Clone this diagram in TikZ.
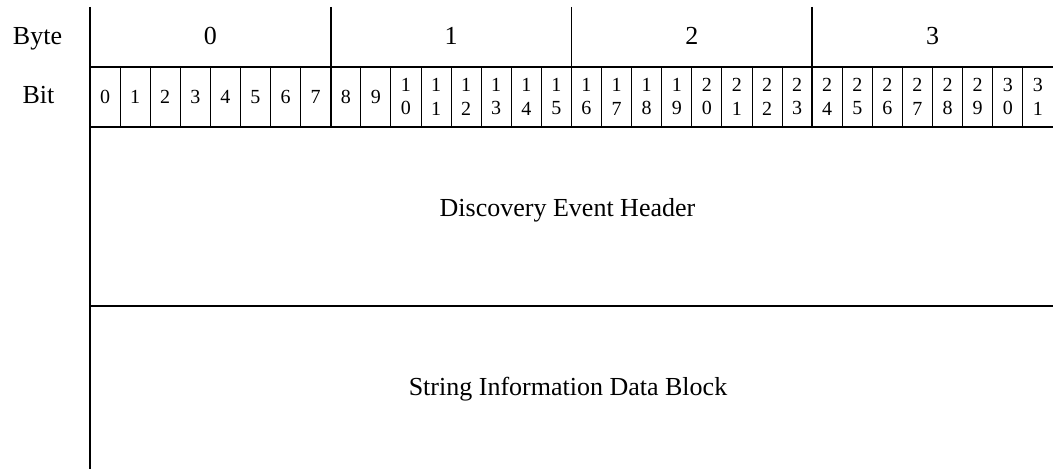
\documentclass[tikz,border=0pt]{standalone}
\usepackage{fontspec}
\setmainfont{Liberation Serif}
\usetikzlibrary{positioning,calc}
\tikzset{
  majorRule/.style={line width=1.8pt},
  minorRule/.style={line width=0.9pt},
  rowLabel/.style={font=\fontsize{26}{30}\selectfont,anchor=base,inner sep=0pt},
  byteLabel/.style={font=\fontsize{26}{30}\selectfont,anchor=base,inner sep=0pt},
  bitLabel/.style={font=\fontsize{20}{23.5}\selectfont,align=center,inner sep=0pt},
  fieldLabel/.style={font=\fontsize{26}{30}\selectfont,anchor=base,inner sep=0pt},
}

\begin{document}
\begin{tikzpicture}[x=1pt,y=1pt]
\useasboundingbox (0,0) rectangle (1053,469);
\def\bitw{30.09}

% Column anchors
\coordinate (T0) at (90,462);   % top of left rule
\coordinate (B0) at (90,0);     % bottom of left rule

% ===== Row rules =====
\foreach [count=\i] \y in {402.3,342.3,163} {
  \coordinate (rowL\i) at (90,\y);
  \coordinate (rowR\i) at (1053,\y);
}

% ===== Bit columns =====
\foreach \i in {1,...,31} {
  \draw[minorRule] ($(rowL1)+(\i*\bitw,0)$) coordinate (bitT\i)
    -- ($(rowL2)+(\i*\bitw,0)$) coordinate (bitB\i);
}
\foreach \i in {0,...,31} {
  \pgfmathtruncatemacro\tens{int(\i/10)}
  \pgfmathtruncatemacro\units{mod(\i,10)}
  \ifnum\i<10
    \node[bitLabel] (bit\i) at ({90+(\i+0.5)*\bitw},372.3) {\i};
  \else
    \node[bitLabel] (bit\i) at ({90+(\i+0.5)*\bitw},372.3) {\tens\\\units};
  \fi
}

% ===== Byte columns =====
\draw[majorRule] (T0) -- (B0);
\foreach \i in {1,2,3} {\draw[majorRule] (rowL\i) -- (rowR\i);}
\foreach \b in {1,2,3} {
  \coordinate (byteT\b) at ($(T0)+(\b*8*\bitw,0)$);
  \coordinate (byteB\b) at ($(rowL2)+(\b*8*\bitw,0)$);
  \draw[majorRule] (byteT\b) -- (byteB\b);
}
\foreach \b in {0,...,3} {
  \node[byteLabel] (byte\b) at ({90+(\b*8+4)*\bitw},424.5) {\b};
}

% ===== Row headings =====
\node[rowLabel] (byteHead) at (37.5,424.5) {Byte};
\node[rowLabel] (bitHead) at (38.5,365.7) {Bit};

% ===== Fields =====
\node[fieldLabel] (eventHeader) at (567.5,252) {Discovery Event Header};
\node[fieldLabel] (stringBlock) at (568,73) {String Information Data Block};

\end{tikzpicture}
\end{document}
